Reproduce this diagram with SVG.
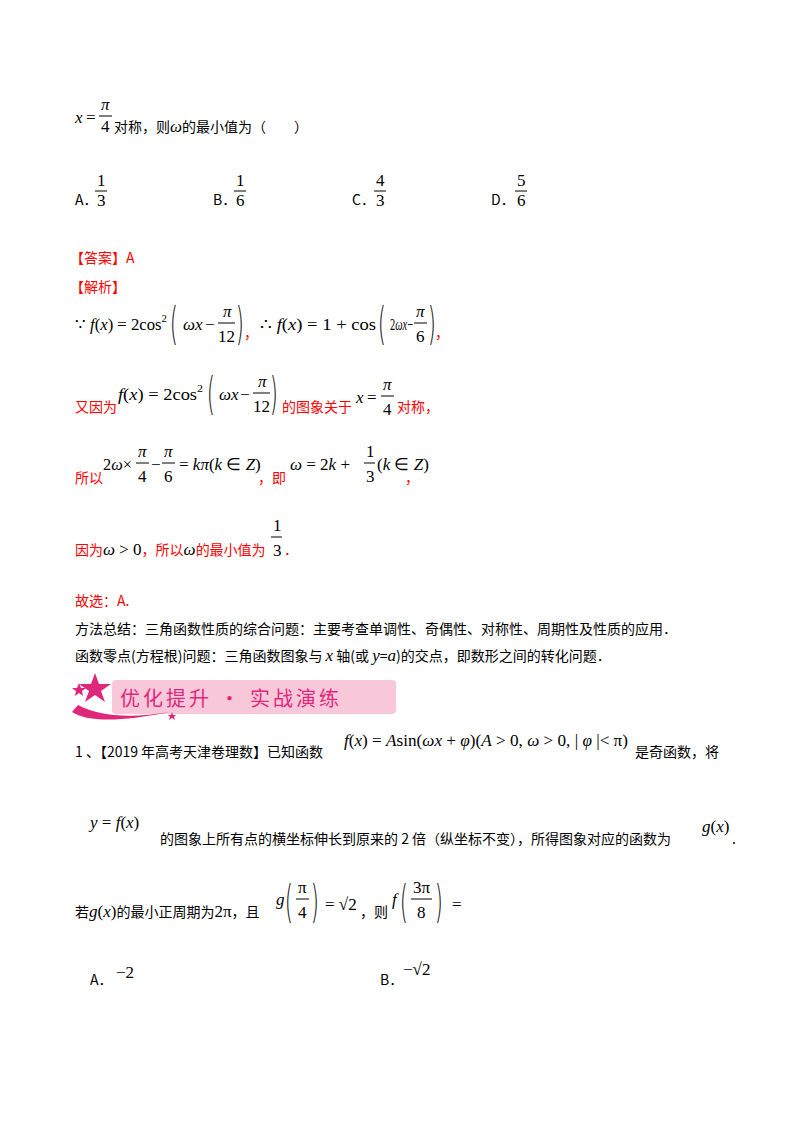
<svg xmlns="http://www.w3.org/2000/svg" width="800" height="1132" viewBox="0 0 800 1132">
<style>
.t{font-family:"Noto Sans CJK SC",sans-serif;font-size:14px;fill:#000}
.r{font-family:"Noto Sans CJK SC",sans-serif;font-size:14px;fill:#ff0000}
.m{font-family:"Liberation Serif",serif;font-size:17px;fill:#000}
.i{font-style:italic}
.p{font-family:"DejaVu Sans",sans-serif;font-size:44px;fill:#000;font-weight:200}
.bar{stroke:#000;stroke-width:1}
</style>
<rect width="800" height="1132" fill="#fff"/>
<text class="m i" x="75" y="123">x</text><text class="m" x="86" y="123">=</text>
<text class="m i" x="101" y="110">π</text><line class="bar" x1="99" y1="116" x2="112" y2="116"/><text class="m" x="101" y="132">4</text>
<text class="t" x="114" y="132">对称，则<tspan class="m i">ω</tspan>的最小值为（　　）</text>
<text class="t" x="75" y="205">A．</text><text class="m" x="97" y="186">1</text><line class="bar" x1="95" y1="191" x2="107" y2="191"/><text class="m" x="97" y="206">3</text>
<text class="t" x="213" y="205">B．</text><text class="m" x="236" y="186">1</text><line class="bar" x1="234" y1="191" x2="246" y2="191"/><text class="m" x="236" y="206">6</text>
<text class="t" x="352" y="205">C．</text><text class="m" x="376" y="186">4</text><line class="bar" x1="374" y1="191" x2="386" y2="191"/><text class="m" x="376" y="206">3</text>
<text class="t" x="491" y="205">D．</text><text class="m" x="517" y="186">5</text><line class="bar" x1="515" y1="191" x2="527" y2="191"/><text class="m" x="517" y="206">6</text>
<text class="r" x="70" y="263">【答案】A</text>
<text class="r" x="70" y="292">【解析】</text>
<text class="m" x="75" y="330" textLength="92" lengthAdjust="spacingAndGlyphs">∵ <tspan class="i">f</tspan>(<tspan class="i">x</tspan>) = 2cos<tspan font-size="11" dy="-8">2</tspan></text>
<text class="p" transform="translate(170,339) scale(0.45,1)">(</text>
<text class="m i" x="183" y="330">ωx</text><text class="m" x="205" y="330">−</text>
<text class="m i" x="223" y="317">π</text><line class="bar" x1="218" y1="323" x2="235" y2="323"/><text class="m" x="218" y="342">12</text>
<text class="p" transform="translate(236,339) scale(0.45,1)">)</text>
<text class="r" x="244" y="338">，</text>
<text class="m" x="260" y="330" textLength="116" lengthAdjust="spacingAndGlyphs">∴ <tspan class="i">f</tspan>(<tspan class="i">x</tspan>) = 1 + cos</text>
<text class="p" transform="translate(378,339) scale(0.45,1)">(</text>
<text class="m" x="390" y="330" textLength="23" lengthAdjust="spacingAndGlyphs">2<tspan class="i">ωx</tspan>−</text>
<text class="m i" x="416" y="317">π</text><line class="bar" x1="414" y1="323" x2="427" y2="323"/><text class="m" x="416" y="342">6</text>
<text class="p" transform="translate(428,339) scale(0.45,1)">)</text>
<text class="r" x="435" y="338">，</text>
<text class="r" x="75" y="412">又因为</text>
<text class="m" x="118" y="400" textLength="85" lengthAdjust="spacingAndGlyphs"><tspan class="i">f</tspan>(<tspan class="i">x</tspan>) = 2cos<tspan font-size="11" dy="-8">2</tspan></text>
<text class="p" transform="translate(207,409) scale(0.45,1)">(</text>
<text class="m i" x="219" y="400">ωx</text><text class="m" x="240" y="400">−</text>
<text class="m i" x="258" y="387">π</text><line class="bar" x1="253" y1="393" x2="270" y2="393"/><text class="m" x="253" y="412">12</text>
<text class="p" transform="translate(270,409) scale(0.45,1)">)</text>
<text class="r" x="282" y="412">的图象关于</text>
<text class="m i" x="356" y="403">x</text><text class="m" x="367" y="403">=</text>
<text class="m i" x="383" y="390">π</text><line class="bar" x1="381" y1="396" x2="394" y2="396"/><text class="m" x="383" y="415">4</text>
<text class="r" x="397" y="412">对称，</text>
<text class="r" x="75" y="483">所以</text>
<text class="m" x="103" y="470" textLength="29" lengthAdjust="spacingAndGlyphs">2<tspan class="i">ω</tspan>×</text>
<text class="m i" x="138" y="457">π</text><line class="bar" x1="136" y1="463" x2="149" y2="463"/><text class="m" x="138" y="482">4</text>
<text class="m" x="151" y="470">−</text>
<text class="m i" x="164" y="457">π</text><line class="bar" x1="162" y1="463" x2="175" y2="463"/><text class="m" x="164" y="482">6</text>
<text class="m" x="179" y="470">= <tspan class="i">kπ</tspan>(<tspan class="i">k</tspan> ∈ <tspan class="i">Z</tspan>)</text>
<text class="r" x="258" y="483">，即</text>
<text class="m" x="290" y="470"><tspan class="i">ω</tspan> = 2<tspan class="i">k</tspan> +</text>
<text class="m" x="366" y="457">1</text><line class="bar" x1="364" y1="463" x2="375" y2="463"/><text class="m" x="366" y="482">3</text>
<text class="m" x="377" y="470">(<tspan class="i">k</tspan> ∈ <tspan class="i">Z</tspan>)</text>
<text class="r" x="405" y="483">，</text>
<text class="r" x="75" y="555">因为<tspan class="m i" fill="#000">ω</tspan><tspan class="m" fill="#000"> &gt; 0</tspan>，所以<tspan class="m i" fill="#000">ω</tspan>的最小值为</text>
<text class="m" x="273" y="531">1</text><line class="bar" x1="271" y1="537" x2="282" y2="537"/><text class="m" x="273" y="556">3</text>
<text class="r" x="284" y="555">．</text>
<text class="r" x="75" y="606">故选：A.</text>
<text class="t" x="75" y="634">方法总结：三角函数性质的综合问题：主要考查单调性、奇偶性、对称性、周期性及性质的应用．</text>
<text class="t" x="75" y="661">函数零点(方程根)问题：三角函数图象与 <tspan class="m i" font-size="15">x</tspan> 轴(或 <tspan class="m i" font-size="15">y</tspan>=<tspan class="m i" font-size="15">a</tspan>)的交点，即数形之间的转化问题．</text>
<g id="banner">
<rect x="112" y="680" width="284" height="34" rx="4" fill="#f8c8da"/>
<path d="M72 712 Q95 727 170 712 Q110 722 78 705 Z" fill="#e0287a"/>
<polygon points="95,673 99,684 111,684 101,691 105,702 95,695 85,702 89,691 79,684 91,684" fill="#e0287a"/>
<polygon points="79,683 81,688 86,688 82,691 83,696 79,693 75,696 76,691 72,688 77,688" fill="#e0287a"/>
<polygon points="172,712 173,715 176,715 174,717 175,720 172,718 169,720 170,717 168,715 171,715" fill="#e0287a"/>
<text x="120" y="706" font-family="Noto Sans CJK SC,sans-serif" font-size="20" fill="#e0287a" letter-spacing="3">优化提升 · 实战演练</text>
</g>
<text class="t" x="75" y="757">1 、【2019 年高考天津卷理数】已知函数</text>
<text class="m" x="344" y="746" textLength="284" lengthAdjust="spacingAndGlyphs"><tspan class="i">f</tspan>(<tspan class="i">x</tspan>) = <tspan class="i">A</tspan>sin(<tspan class="i">ωx</tspan> + <tspan class="i">φ</tspan>)(<tspan class="i">A</tspan> &gt; 0, <tspan class="i">ω</tspan> &gt; 0, | <tspan class="i">φ</tspan> |&lt; π)</text>
<text class="t" x="635" y="757">是奇函数，将</text>
<text class="m" x="90" y="828"><tspan class="i">y</tspan> = <tspan class="i">f</tspan>(<tspan class="i">x</tspan>)</text>
<text class="t" x="160" y="844">的图象上所有点的横坐标伸长到原来的 2 倍（纵坐标不变），所得图象对应的函数为</text>
<text class="m" x="702" y="832"><tspan class="i">g</tspan>(<tspan class="i">x</tspan>)</text>
<text class="t" x="732" y="844">.</text>
<text class="t" x="75" y="917">若<tspan class="m i">g</tspan><tspan class="m">(</tspan><tspan class="m i">x</tspan><tspan class="m">)</tspan>的最小正周期为<tspan class="m">2π</tspan>，且</text>
<text class="m i" x="276" y="905">g</text>
<text class="p" transform="translate(285,917) scale(0.45,1)">(</text>
<text class="m" x="298" y="893">π</text><line class="bar" x1="296" y1="899" x2="309" y2="899"/><text class="m" x="298" y="918">4</text>
<text class="p" transform="translate(311,917) scale(0.45,1)">)</text>
<text class="m" x="325" y="910">= √2</text>
<text class="t" x="360" y="917">，则</text>
<text class="m i" x="392" y="905">f</text>
<text class="p" transform="translate(400,917) scale(0.45,1)">(</text>
<text class="m" x="413" y="893">3π</text><line class="bar" x1="411" y1="899" x2="432" y2="899"/><text class="m" x="417" y="918">8</text>
<text class="p" transform="translate(435,917) scale(0.45,1)">)</text>
<text class="m" x="452" y="910">=</text>
<text class="t" x="90" y="985">A．</text><text class="m" x="116" y="978">−2</text>
<text class="t" x="380" y="985">B．</text><text class="m" x="403" y="975">−√2</text>
</svg>
